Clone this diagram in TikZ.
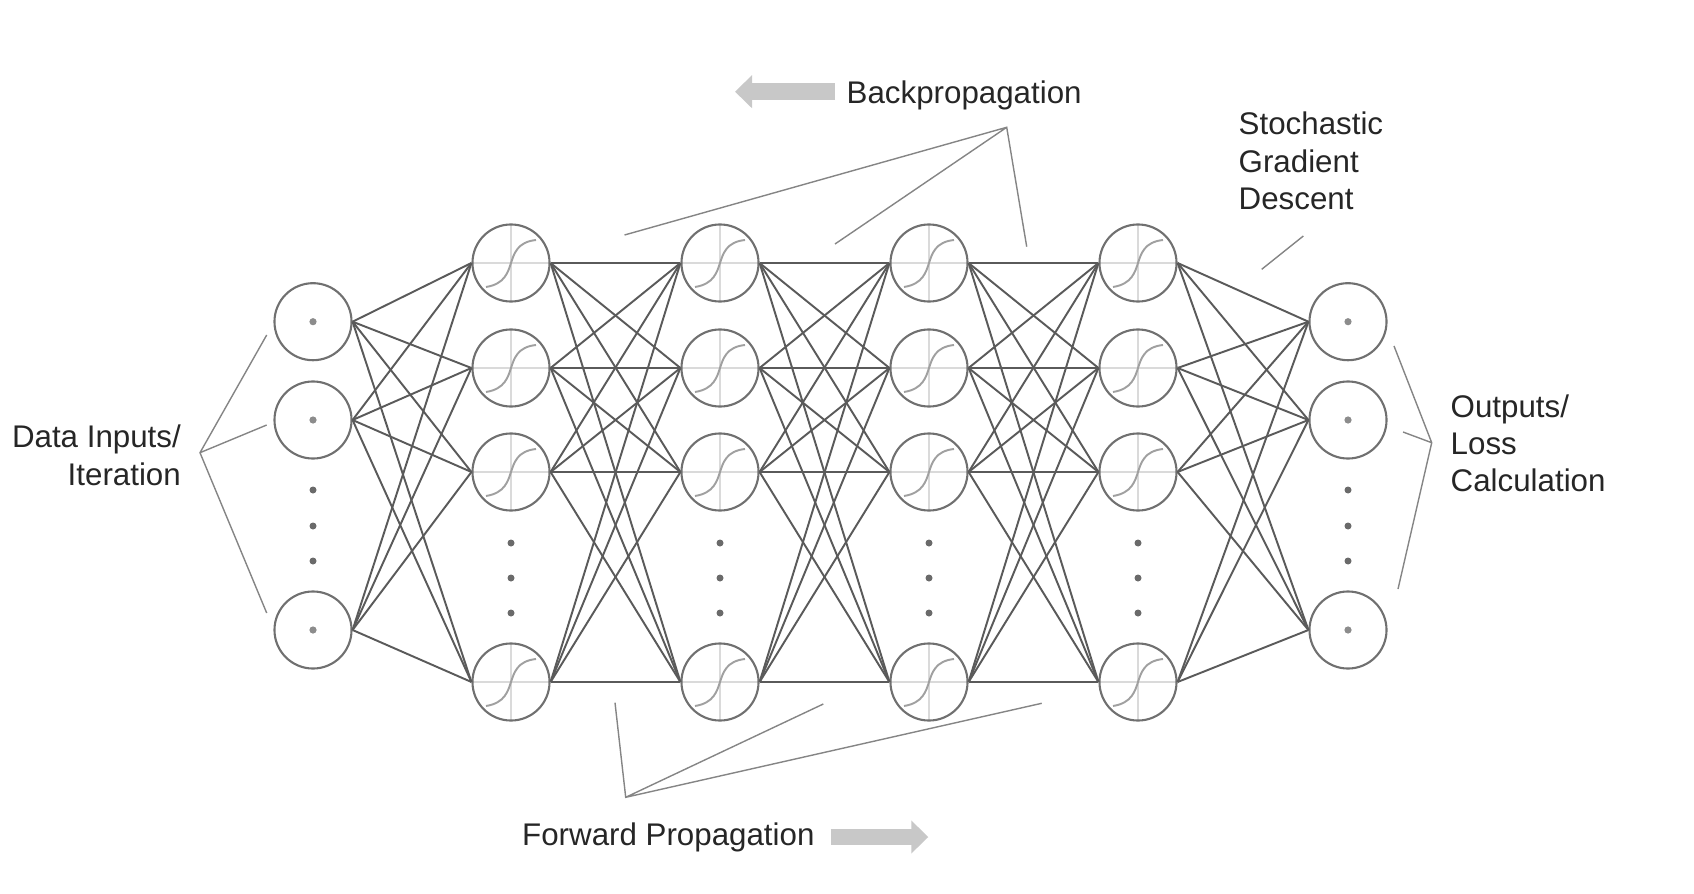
\documentclass[tikz,border=0pt]{standalone}
\usepackage{fontspec}
\setmainfont{Liberation Sans}
\usetikzlibrary{arrows.meta}

\definecolor{ringgray}{HTML}{707070}
\definecolor{wiregray}{HTML}{5A5A5A}
\definecolor{notegray}{HTML}{858585}
\definecolor{axisgray}{HTML}{DADADA}
\definecolor{curvegray}{HTML}{A0A0A0}
\definecolor{dotgray}{HTML}{6A6A6A}
\definecolor{shadegray}{HTML}{C8C8C8}

\begin{document}
\begin{tikzpicture}[x=0.01cm, y=-0.01cm,
  neuron/.style={circle, draw=ringgray, line width=0.6pt, minimum size=0.77cm, inner sep=0pt},
  io/.style={neuron, path picture={\fill[black!45] (path picture bounding box.center) circle (0.36mm);}},
  hidden/.style={neuron, path picture={
      \begin{scope}[shift={(path picture bounding box.center)}]
        \draw[axisgray, line width=0.5pt] (-40,0) -- (40,0) (0,-40) -- (0,40);
        \draw[curvegray, line width=0.55pt] (-25,24) .. controls (-6,21) and (-3,9) .. (0,0) .. controls (3,-9) and (6,-21) .. (25,-23);
      \end{scope}}},
  wire/.style={wiregray, line width=0.55pt},
  note/.style={notegray, line width=0.4pt},
  words/.style={font=\fontsize{8.9}{10.6}\selectfont, inner sep=0pt, text=black!85},
  bigarrow/.style={shadegray, line width=0.17cm, -{Triangle[length=0.17cm, width=0.32cm]}}
]
\useasboundingbox (0,0) rectangle (1694,894);

% INPUT / OUTPUT LAYERS
\foreach \n/\y in {1/321.7, 2/420, 3/630} {
  \node[io] (in\n) at (313,\y) {};
  \node[io] (out\n) at (1348,\y) {};
}
\foreach \x in {313, 1348}
  \foreach \y in {490, 526, 561}
    \fill[dotgray] (\x,\y) circle (0.35mm);

% HIDDEN LAYERS
\foreach \l/\x in {1/511, 2/720, 3/929, 4/1138} {
  \foreach \n/\y in {1/263, 2/368, 3/472, 4/682}
    \node[hidden] (h\l-\n) at (\x,\y) {};
  \foreach \y in {543, 578, 613}
    \fill[dotgray] (\x,\y) circle (0.35mm);
}

% CONNECTIONS
\foreach \i in {1,2,3}
  \foreach \j in {1,...,4} {
    \draw[wire] (in\i.east) -- (h1-\j.west);
    \draw[wire] (h4-\j.east) -- (out\i.west);
  }
\foreach \l [evaluate=\l as \m using int(\l+1)] in {1,2,3}
  \foreach \i in {1,...,4}
    \foreach \j in {1,...,4}
      \draw[wire] (h\l-\i.east) -- (h\m-\j.west);

% LABELS (base = last line)
\node[words, anchor=base west] (backlbl) at (846,103.3) {Backpropagation};
\node[words, anchor=base west] (fwdlbl) at (521.5,845.5) {Forward Propagation};
\node[words, anchor=base east, align=right] (datalbl) at (181.5,485) {Data Inputs/\\Iteration};
\node[words, anchor=base west, align=left] (sgdlbl) at (1238,209.5) {Stochastic\\Gradient\\Descent};
\node[words, anchor=base west, align=left] (outlbl) at (1450,491.7) {Outputs/\\Loss\\Calculation};

% Direction arrows
\coordinate (backA) at (835,91.7);
\coordinate (backB) at (735,91.7);
\draw[bigarrow] (backA) -- (backB);
\coordinate (fwdA) at (830.7,837);
\coordinate (fwdB) at (928.3,837);
\draw[bigarrow, line width=0.16cm] (fwdA) -- (fwdB);

% Pointer lines
\coordinate (dataTip) at (200,452.7);
\coordinate (dataE1) at (266.7,335);
\coordinate (dataE2) at (266.7,425);
\coordinate (dataE3) at (266.7,613);
\draw[note] (dataE1) -- (dataTip) -- (dataE3) (dataTip) -- (dataE2);

\coordinate (outTip) at (1431.7,442.7);
\coordinate (outE1) at (1394,346);
\coordinate (outE2) at (1403,432);
\coordinate (outE3) at (1398,589);
\draw[note] (outE1) -- (outTip) -- (outE3) (outTip) -- (outE2);

\coordinate (backTip) at (1006.7,127.3);
\coordinate (backE1) at (624.5,235);
\coordinate (backE2) at (835,244);
\coordinate (backE3) at (1026.7,246.7);
\draw[note] (backE1) -- (backTip) -- (backE3) (backTip) -- (backE2);

\coordinate (sgdA) at (1261.7,269.3);
\coordinate (sgdB) at (1303.3,236);
\draw[note] (sgdA) -- (sgdB);

\coordinate (fwdTip) at (625.7,797.3);
\coordinate (fwdE1) at (615,702.7);
\coordinate (fwdE2) at (823.3,704);
\coordinate (fwdE3) at (1041.7,703.3);
\draw[note] (fwdE1) -- (fwdTip) -- (fwdE3) (fwdTip) -- (fwdE2);

\end{tikzpicture}
\end{document}
